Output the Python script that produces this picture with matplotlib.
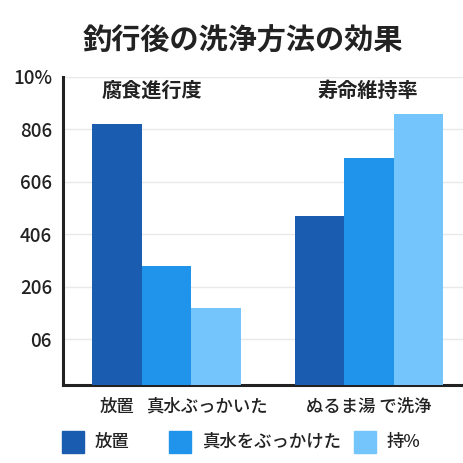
import matplotlib
matplotlib.use("Agg")
import matplotlib.pyplot as plt
from matplotlib.patches import Rectangle

plt.rcParams["font.family"] = ["Noto Sans CJK JP", "DejaVu Sans"]

# data
groups = ["腐食進行度", "寿命維持率"]
series = ["放置", "真水をぶっかけた", "持%"]
values = [
    [82, 47],   # 放置
    [28, 69],   # 真水をぶっかけた
    [12, 86],   # 持%
]
colors = ["#1a5cb0", "#2094eb", "#75c5fd"]
ytick_vals = [0, 20, 40, 60, 80, 100]
ytick_labels = ["06", "206", "406", "606", "806", "10%"]
xtick_labels = ["放置", "真水ぶっかいた", "ぬるま湯 で洗浄"]

TEXT = "#222222"
YMIN = -17.5
W = 0.244

fig = plt.figure(figsize=(4.64, 4.63), dpi=100)
ax = fig.add_axes([63 / 464, 1 - 385 / 463, 401 / 464, 308 / 463])

for i, (vals, c) in enumerate(zip(values, colors)):
    for g, v in enumerate(vals):
        ax.bar(g + (i - 1) * W, v - YMIN, bottom=YMIN, width=W, color=c,
               edgecolor="none", zorder=3)

ax.set_xlim(-0.511, 1.469)
ax.set_ylim(YMIN, 100)
ax.set_yticks(ytick_vals)
ax.set_yticklabels(ytick_labels, fontsize=13.5, color=TEXT, fontweight="medium")
ax.tick_params(axis="y", length=0, pad=8)
ax.grid(axis="y", color="#e9e9e9", linewidth=1, zorder=0)

ax.set_xticks([-W, 0.2, 1.0])
ax.set_xticklabels(xtick_labels, fontsize=12.5, color=TEXT, fontweight="medium")
ax.tick_params(axis="x", length=0, pad=9)

for s in ["top", "right"]:
    ax.spines[s].set_visible(False)
for s in ["left", "bottom"]:
    ax.spines[s].set_color(TEXT)
    ax.spines[s].set_linewidth(2.2)

# group headings
ax.text(-0.07, 95, groups[0], ha="center", va="center", fontsize=14.5,
        color=TEXT, fontweight="bold")
ax.text(0.995, 95, groups[1], ha="center", va="center", fontsize=14.5,
        color=TEXT, fontweight="bold")

fig.text(243 / 464, 1 - 41 / 463, "釣行後の洗浄方法の効果", ha="center",
         va="center", fontsize=21, fontweight="bold", color=TEXT)

# legend drawn by hand to match spacing
leg_x = [62, 169, 354]
for x0, c, lab in zip(leg_x, colors, series):
    fig.add_artist(Rectangle((x0 / 464, 1 - 453 / 463), 22 / 464, 22 / 463,
                             transform=fig.transFigure, color=c))
    fig.text((x0 + 33) / 464, 1 - 442 / 463, lab, ha="left", va="center",
             fontsize=12.5, color=TEXT, fontweight="medium")

fig.savefig("out.png", dpi=100)
